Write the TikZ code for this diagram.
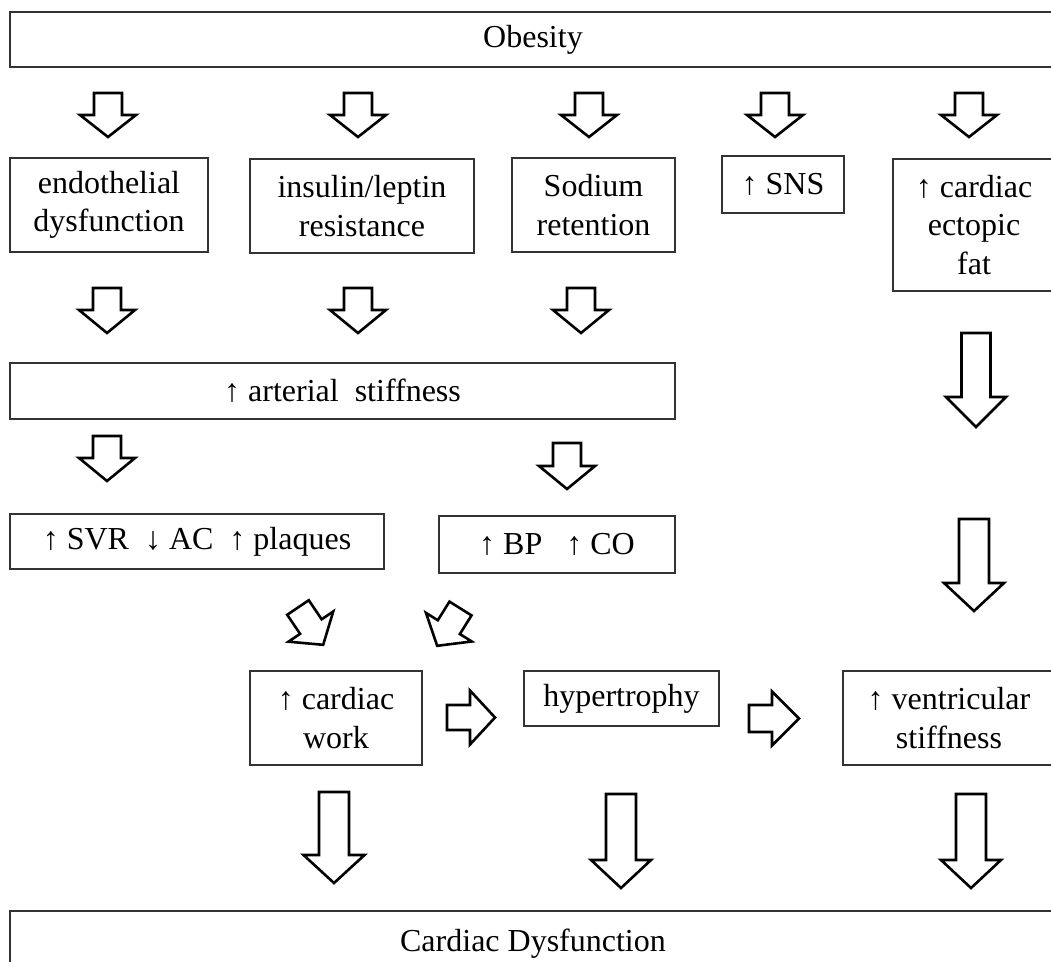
\documentclass[tikz,border=0pt]{standalone}
\usepackage{fontspec}
\setmainfont{Liberation Serif}
\newcommand\barrow[7]{\draw[barrowstyle, shift={(#1,#2)}, rotate=#3] (-#4,0) -- (#4,0) -- (#4,#6) -- (#5,#6) -- (0,#7) -- (-#5,#6) -- (-#4,#6) -- cycle;}
\begin{document}
\begin{tikzpicture}[x=1pt,y=-1pt,
  box/.style={draw=black!80, line width=1.4pt, rectangle, inner sep=0pt, align=center,
    font=\fontsize{32}{38.5}\selectfont},
  barrowstyle/.style={draw=black, line width=2.6pt, line join=miter, fill=white}]
\useasboundingbox (0,0) rectangle (1051,961);
\clip (0,0) rectangle (1051,961);
\fill[white] (0,0) rectangle (1051,961);
% boxes
\node[box, minimum width=1046, minimum height=55] (obesity) at (533,39.5) {Obesity};
\node[box, minimum width=198, minimum height=94] (endo) at (109,205) {endothelial\\dysfunction};
\node[box, minimum width=224, minimum height=94] (insulin) at (362,206) {insulin/leptin\\resistance};
\node[box, minimum width=163, minimum height=94] (sodium) at (593.5,205) {Sodium\\retention};
\node[box, minimum width=122, minimum height=57] (sns) at (783,184.5) {↑ SNS};
\node[box, minimum width=162, minimum height=132] (ectopic) at (974,225) {↑ cardiac\\ectopic\\fat};
\node[box, minimum width=665, minimum height=56] (arterial) at (342.5,391) {↑ arterial\ \ stiffness};
\node[box, minimum width=374, minimum height=55] (svr) at (197,541.5) {↑ SVR\ \ ↓ AC\ \ ↑ plaques};
\node[box, minimum width=236, minimum height=57] (bpco) at (557,544.5) {↑ BP\ \ \ ↑ CO};
\node[box, minimum width=172, minimum height=94] (work) at (336,718) {↑ cardiac\\work};
\node[box, minimum width=195, minimum height=55] (hyper) at (621.5,698.5) {hypertrophy};
\node[box, minimum width=212, minimum height=94] (vent) at (949,718) {↑ ventricular\\stiffness};
\node[box, minimum width=1046, minimum height=66] (dysf) at (533,944) {Cardiac Dysfunction};
% row 1 arrows
\barrow{108}{93}{0}{14}{28}{22}{44}
\barrow{358}{93}{0}{14}{28}{22}{44}
\barrow{589}{93}{0}{14}{28}{22}{44}
\barrow{775}{93}{0}{14}{28}{22}{44}
\barrow{969}{93}{0}{14}{28}{22}{44}
% row 2 arrows
\barrow{107}{288}{0}{14}{28}{22}{45}
\barrow{358}{288}{0}{14}{28}{22}{45}
\barrow{581}{288}{0}{14}{28}{22}{45}
% row 3 arrows
\barrow{107}{436}{0}{14}{28}{22}{45}
\barrow{567}{443}{0}{14}{28}{23}{46}
% long right arrows
\barrow{976}{333}{0}{14.5}{30}{64}{94}
\barrow{974}{519}{0}{15}{30}{64}{92}
% diagonal arrows
\barrow{298}{607.5}{34}{13}{27}{23}{45}
\barrow{460.5}{608.5}{-32}{13}{27}{22}{44}
% horizontal arrows
\barrow{447}{717.5}{90}{12.5}{27}{23}{48}
\barrow{749}{718.5}{90}{13.5}{27}{23}{50}
% bottom arrows
\barrow{334}{792}{0}{15}{30.5}{63}{91}
\barrow{621}{794}{0}{15}{30}{66}{94}
\barrow{971}{794}{0}{15}{30}{66}{94}
\end{tikzpicture}
\end{document}
